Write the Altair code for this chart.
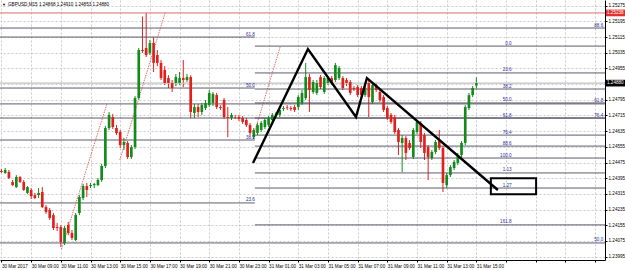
import json
import altair as alt
import pandas as pd

# ---------------- data (GBPUSD M15) ----------------
opens = [1.24432, 1.24422, 1.24427, 1.24376, 1.24350, 1.24401, 1.24376, 1.24320, 1.24335, 1.24309,
         1.24309, 1.24325, 1.24248, 1.24233, 1.24207, 1.24146, 1.24146, 1.24065, 1.24156, 1.24116,
         1.24080, 1.24218, 1.24294, 1.24355, 1.24355, 1.24360, 1.24360, 1.24386, 1.24457, 1.24651,
         1.24707, 1.24651, 1.24631, 1.24564, 1.24575, 1.24503, 1.24554, 1.24804, 1.25049, 1.25059,
         1.25034, 1.25085, 1.25023, 1.24983, 1.24947, 1.24906, 1.24881, 1.24881, 1.24881, 1.24906,
         1.24896, 1.24911, 1.24728, 1.24758, 1.24733, 1.24753, 1.24768, 1.24779, 1.24819, 1.24758,
         1.24794, 1.24707, 1.24702, 1.24707, 1.24707, 1.24702, 1.24692, 1.24666, 1.24605, 1.24626,
         1.24641, 1.24656, 1.24666, 1.24692, 1.24718, 1.24718, 1.24748, 1.24758, 1.24753, 1.24758,
         1.24758, 1.24779, 1.24804, 1.24911, 1.24835, 1.24830, 1.24911, 1.24835, 1.24881, 1.24906,
         1.24896, 1.24906, 1.24906, 1.24896, 1.24886, 1.24855, 1.24860, 1.24855, 1.24819, 1.24881,
         1.24784, 1.24870, 1.24835, 1.24809, 1.24753, 1.24718, 1.24707, 1.24641, 1.24575, 1.24600,
         1.24575, 1.24503, 1.24631, 1.24677, 1.24615, 1.24554, 1.24498, 1.24529, 1.24590, 1.24549,
         1.24360, 1.24411, 1.24447, 1.24473, 1.24513, 1.24575, 1.24753, 1.24819, 1.24868]
closes = [1.24427, 1.24437, 1.24396, 1.24360, 1.24401, 1.24376, 1.24335, 1.24350, 1.24304, 1.24294,
          1.24320, 1.24248, 1.24223, 1.24192, 1.24141, 1.24141, 1.24070, 1.24141, 1.24116, 1.24090,
          1.24207, 1.24299, 1.24355, 1.24335, 1.24360, 1.24366, 1.24386, 1.24457, 1.24651, 1.24718,
          1.24656, 1.24626, 1.24564, 1.24580, 1.24503, 1.24554, 1.24804, 1.25049, 1.25044, 1.25023,
          1.25085, 1.24983, 1.24983, 1.24906, 1.24881, 1.24881, 1.24855, 1.24911, 1.24906, 1.24896,
          1.24911, 1.24733, 1.24758, 1.24733, 1.24768, 1.24779, 1.24830, 1.24825, 1.24758, 1.24753,
          1.24707, 1.24702, 1.24718, 1.24705, 1.24697, 1.24682, 1.24666, 1.24626, 1.24641, 1.24666,
          1.24677, 1.24692, 1.24702, 1.24718, 1.24723, 1.24743, 1.24753, 1.24755, 1.24748, 1.24743,
          1.24809, 1.24830, 1.24911, 1.24845, 1.24886, 1.24881, 1.24860, 1.24906, 1.24906, 1.24881,
          1.24972, 1.24957, 1.24855, 1.24881, 1.24830, 1.24850, 1.24819, 1.24819, 1.24855, 1.24809,
          1.24870, 1.24845, 1.24794, 1.24743, 1.24702, 1.24682, 1.24631, 1.24580, 1.24600, 1.24524,
          1.24549, 1.24641, 1.24682, 1.24580, 1.24524, 1.24503, 1.24529, 1.24580, 1.24549, 1.24371,
          1.24411, 1.24452, 1.24478, 1.24513, 1.24575, 1.24758, 1.24819, 1.24855, 1.24880]
highs = [1.24442, 1.24447, 1.24437, 1.24386, 1.24411, 1.24406, 1.24386, 1.24355, 1.24345, 1.24320,
         1.24345, 1.24350, 1.24258, 1.24243, 1.24218, 1.24167, 1.24156, 1.24151, 1.24172, 1.24131,
         1.24218, 1.24309, 1.24366, 1.24371, 1.24371, 1.24371, 1.24396, 1.24468, 1.24661, 1.24733,
         1.24723, 1.24666, 1.24641, 1.24600, 1.24585, 1.24564, 1.24814, 1.25059, 1.25220, 1.25238,
         1.25100, 1.25115, 1.25049, 1.24998, 1.24967, 1.24921, 1.24896, 1.24927, 1.24937, 1.24998,
         1.24927, 1.24921, 1.24774, 1.24774, 1.24779, 1.24794, 1.24845, 1.24835, 1.24830, 1.24768,
         1.24804, 1.24758, 1.24728, 1.24718, 1.24718, 1.24712, 1.24702, 1.24677, 1.24651, 1.24677,
         1.24687, 1.24702, 1.24712, 1.24728, 1.24733, 1.24753, 1.24763, 1.24768, 1.24763, 1.24768,
         1.24819, 1.24845, 1.24983, 1.24927, 1.24896, 1.24896, 1.24921, 1.24916, 1.24916, 1.24916,
         1.24983, 1.24967, 1.24916, 1.24906, 1.24896, 1.24865, 1.24870, 1.24865, 1.24865, 1.24891,
         1.24881, 1.24881, 1.24845, 1.24819, 1.24763, 1.24728, 1.24718, 1.24651, 1.24615, 1.24610,
         1.24590, 1.24651, 1.24692, 1.24687, 1.24626, 1.24564, 1.24539, 1.24590, 1.24641, 1.24559,
         1.24422, 1.24462, 1.24488, 1.24524, 1.24585, 1.24768, 1.24830, 1.24865, 1.24910]
lows = [1.24422, 1.24417, 1.24391, 1.24355, 1.24345, 1.24371, 1.24330, 1.24315, 1.24289, 1.24289,
        1.24294, 1.24243, 1.24213, 1.24182, 1.24131, 1.24126, 1.24044, 1.24054, 1.24105, 1.24080,
        1.24075, 1.24207, 1.24284, 1.24299, 1.24345, 1.24345, 1.24355, 1.24376, 1.24447, 1.24641,
        1.24646, 1.24615, 1.24549, 1.24539, 1.24493, 1.24493, 1.24544, 1.24794, 1.25034, 1.25013,
        1.25023, 1.24937, 1.24967, 1.24896, 1.24870, 1.24855, 1.24835, 1.24865, 1.24870, 1.24860,
        1.24886, 1.24702, 1.24702, 1.24707, 1.24717, 1.24743, 1.24758, 1.24763, 1.24748, 1.24743,
        1.24697, 1.24605, 1.24692, 1.24697, 1.24687, 1.24672, 1.24656, 1.24615, 1.24595, 1.24615,
        1.24631, 1.24646, 1.24656, 1.24682, 1.24707, 1.24707, 1.24738, 1.24743, 1.24738, 1.24733,
        1.24743, 1.24768, 1.24794, 1.24733, 1.24825, 1.24819, 1.24850, 1.24825, 1.24870, 1.24870,
        1.24886, 1.24896, 1.24845, 1.24865, 1.24819, 1.24840, 1.24809, 1.24809, 1.24809, 1.24707,
        1.24774, 1.24835, 1.24784, 1.24733, 1.24692, 1.24672, 1.24621, 1.24513, 1.24427, 1.24488,
        1.24539, 1.24493, 1.24621, 1.24549, 1.24488, 1.24386, 1.24488, 1.24519, 1.24539, 1.24325,
        1.24345, 1.24401, 1.24437, 1.24462, 1.24503, 1.24564, 1.24743, 1.24809, 1.24853]
bars = list(range(len(opens)))

time_labels = ["30 Mar 2017", "30 Mar 09:00", "30 Mar 11:00", "30 Mar 13:00", "30 Mar 15:00",
               "30 Mar 17:00", "30 Mar 19:00", "30 Mar 21:00", "30 Mar 23:00", "31 Mar 01:00",
               "31 Mar 03:00", "31 Mar 05:00", "31 Mar 07:00", "31 Mar 09:00", "31 Mar 11:00",
               "31 Mar 13:00", "31 Mar 15:00"]
time_ticks = [0, 8, 16, 24, 32, 40, 48, 56, 64, 72, 80, 88, 96, 104, 112, 120, 128, 136, 144, 152, 160]
price_ticks = [1.23995, 1.24075, 1.24155, 1.24235, 1.24315, 1.24395, 1.24475, 1.24555, 1.24635,
               1.24715, 1.24795, 1.24875, 1.24955, 1.25035, 1.25115, 1.25195, 1.25275]

# Fibonacci levels
fib_left_prices = [1.25115, 1.24855, 1.24590, 1.24269]
fib_left_texts = ["61.8", "50.0", "38.2", "23.6"]
fib_full_prices = [1.25161, 1.24774, 1.24702, 1.24065]
fib_full_texts = ["88.6", "61.8", "76.4", "50.0"]
fib_right_prices = [1.25069, 1.24932, 1.24850, 1.24779, 1.24702, 1.24615, 1.24559, 1.24498,
                    1.24422, 1.24345, 1.24157]
fib_right_texts = ["0.0", "23.6", "38.2", "50.0", "61.8", "76.4", "88.6", "100.0", "1.13", "1.27", "161.8"]

# dotted anchor lines of the Fibonacci tools
anchor_x1 = [16.2, 31.9, 67.8]
anchor_p1 = [1.24034, 1.24488, 1.24605]
anchor_x2 = [28.4, 44.1, 75.1]
anchor_p2 = [1.24774, 1.25238, 1.25064]

# hand drawn pattern (thick black zig-zag) and target box
zig_bars = [67.8, 82.6, 95.55, 98.5, 133.8]
zig_prices = [1.24473, 1.25054, 1.24707, 1.24906, 1.24335]
box_bars = [131.9, 144.1]
box_prices = [1.24313, 1.24395]

red_level = 1.25238
title_text = "GBPUSD,M15  1.24868 1.24910 1.24853 1.24880"

# ---------------- chart ----------------
X_DOM = [-0.4, 162.67]
Y_DOM = [1.23978, 1.25304]
W, H = 605, 260
FONT = "Liberation Sans"
FS = 4.6
GREEN = "#138a1c"
RED = "#e0201c"
FIBC = "#4a4a5a"
LABC = "#2b2b9a"

xs = alt.Scale(domain=X_DOM, nice=False, zero=False)
ys = alt.Scale(domain=Y_DOM, nice=False, zero=False)

label_js = json.dumps(time_labels)
X_AXIS = alt.Axis(values=time_ticks,
                  labelExpr=f"datum.value/8 < {len(time_labels)} ? {label_js}[datum.value/8] : ''",
                  labelAlign="left", labelFont=FONT, labelFontSize=FS, labelColor="black",
                  labelPadding=1, tickSize=2, tickColor="black", domainColor="black", domainWidth=1,
                  grid=True, gridColor="#b4b4b4", gridDash=[2, 2], gridWidth=0.7, title=None,
                  labelFlush=False, labelOverlap=False, labelBound=False)
Y_AXIS = alt.Axis(orient="right", values=price_ticks, format=".5f", labelFont=FONT, labelFontSize=FS,
                  labelColor="black", labelPadding=1, tickSize=2, tickColor="black",
                  domainColor="black", domainWidth=1, grid=True, gridColor="#b4b4b4",
                  gridDash=[2, 2], gridWidth=0.7, title=None, labelFlush=False, labelOverlap=False)


def X(field):
    return alt.X(field, scale=xs, axis=X_AXIS)


def Y(field):
    return alt.Y(field, scale=ys, axis=Y_AXIS)


candles = pd.DataFrame({"bar": bars, "open": opens, "high": highs, "low": lows, "close": closes})
candles["dir"] = ["up" if c >= o else "down" for o, c in zip(opens, closes)]
color = alt.Color("dir:N", scale=alt.Scale(domain=["up", "down"], range=[GREEN, RED]), legend=None)

base = alt.Chart(candles)
wicks = base.mark_rule(strokeWidth=1).encode(
    x=X("bar:Q"), y=Y("low:Q"), y2="high:Q", color=color)
bodies = base.transform_calculate(
    x0="datum.bar - 0.36", x1="datum.bar + 0.36",
    lo="min(datum.open, datum.close)",
    hi="max(max(datum.open, datum.close), min(datum.open, datum.close) + 0.00002)",
).mark_rect().encode(
    x=X("x0:Q"), x2="x1:Q", y=Y("lo:Q"), y2="hi:Q", color=color)

rows = []
for p, t in zip(fib_left_prices, fib_left_texts):
    rows.append({"price": p, "text": t, "xa": X_DOM[0], "xb": 68.3, "lx": 68.3})
for p, t in zip(fib_full_prices, fib_full_texts):
    rows.append({"price": p, "text": t, "xa": X_DOM[0], "xb": X_DOM[1], "lx": 162.2})
for p, t in zip(fib_right_prices, fib_right_texts):
    rows.append({"price": p, "text": t, "xa": 68.3, "xb": X_DOM[1], "lx": 137.5})
fib = pd.DataFrame(rows)
fib_lines = alt.Chart(fib).mark_rule(color=FIBC, strokeWidth=0.9).encode(
    x=X("xa:Q"), x2="xb:Q", y=Y("price:Q"))
fib_text = alt.Chart(fib).mark_text(align="right", baseline="bottom", dy=-0.5, font=FONT,
                                    fontSize=FS, color=LABC).encode(
    x=X("lx:Q"), y=Y("price:Q"), text="text:N")

red_df = pd.DataFrame({"price": [red_level]})
red_line = alt.Chart(red_df).mark_rule(color="#e06a6a", strokeWidth=1).encode(
    x=alt.value(0), x2=alt.value(W), y=Y("price:Q"))

last_df = pd.DataFrame({"price": [closes[-1]]})
bid_line = alt.Chart(last_df).mark_rule(color="#c0c0c0", strokeWidth=1.2).encode(
    x=alt.value(0), x2=alt.value(W), y=Y("price:Q"))

anch = pd.DataFrame({"x1": anchor_x1, "p1": anchor_p1, "x2": anchor_x2, "p2": anchor_p2})
anchor_lines = alt.Chart(anch).mark_rule(color="#d84848", strokeWidth=0.8, strokeDash=[1.5, 1]).encode(
    x=X("x1:Q"), x2="x2:Q", y=Y("p1:Q"), y2="p2:Q")

zig = pd.DataFrame({"bar": zig_bars, "price": zig_prices, "i": list(range(len(zig_bars)))})
zig_line = alt.Chart(zig).mark_line(color="black", strokeWidth=2.4).encode(
    x=X("bar:Q"), y=Y("price:Q"), order="i:Q")

box = pd.DataFrame({"xa": [box_bars[0]], "xb": [box_bars[1]], "pa": [box_prices[0]], "pb": [box_prices[1]]})
box_mark = alt.Chart(box).mark_rect(fillOpacity=0, stroke="black", strokeWidth=2).encode(
    x=X("xa:Q"), x2="xb:Q", y=Y("pa:Q"), y2="pb:Q")

tags = pd.DataFrame({"price": [red_level, closes[-1]], "fill": ["#e03030", "black"],
                     "label": [f"{red_level:.5f}", f"{closes[-1]:.5f}"]})
tags["lo"] = tags["price"] - 0.00017
tags["hi"] = tags["price"] + 0.00017
tag_box = alt.Chart(tags).mark_rect(clip=False).encode(
    x=alt.value(W + 1), x2=alt.value(W + 20),
    y=Y("lo:Q"), y2="hi:Q",
    color=alt.Color("fill:N", scale=None),
)
tag_text = alt.Chart(tags).mark_text(align="left", baseline="middle", font=FONT, fontSize=FS,
                                     color="white", clip=False).encode(
    x=alt.value(W + 2), y=Y("price:Q"), text="label:N")

title_df = pd.DataFrame({"t": [title_text]})
title_mark = alt.Chart(title_df).mark_text(align="left", baseline="middle", font=FONT,
                                           fontSize=FS, color="black").encode(
    x=alt.value(8), y=alt.value(5), text="t:N")
arrow = alt.Chart(pd.DataFrame({"t": ["▼"]})).mark_text(align="left", baseline="middle",
                                                        fontSize=4, color="black").encode(
    x=alt.value(2), y=alt.value(5), text="t:N")

chart = alt.layer(
    wicks, fib_lines, red_line, bid_line, anchor_lines, bodies, fib_text,
    zig_line, box_mark, tag_box, tag_text, title_mark, arrow,
).properties(
    width=W, height=H,
    padding={"left": 0, "top": 0, "right": 20, "bottom": 10},
    autosize=alt.AutoSizeParams(type="none"),
    background="white",
).configure_view(stroke=None)

chart.save("out.html", embed_options={"renderer": "svg", "actions": False})
